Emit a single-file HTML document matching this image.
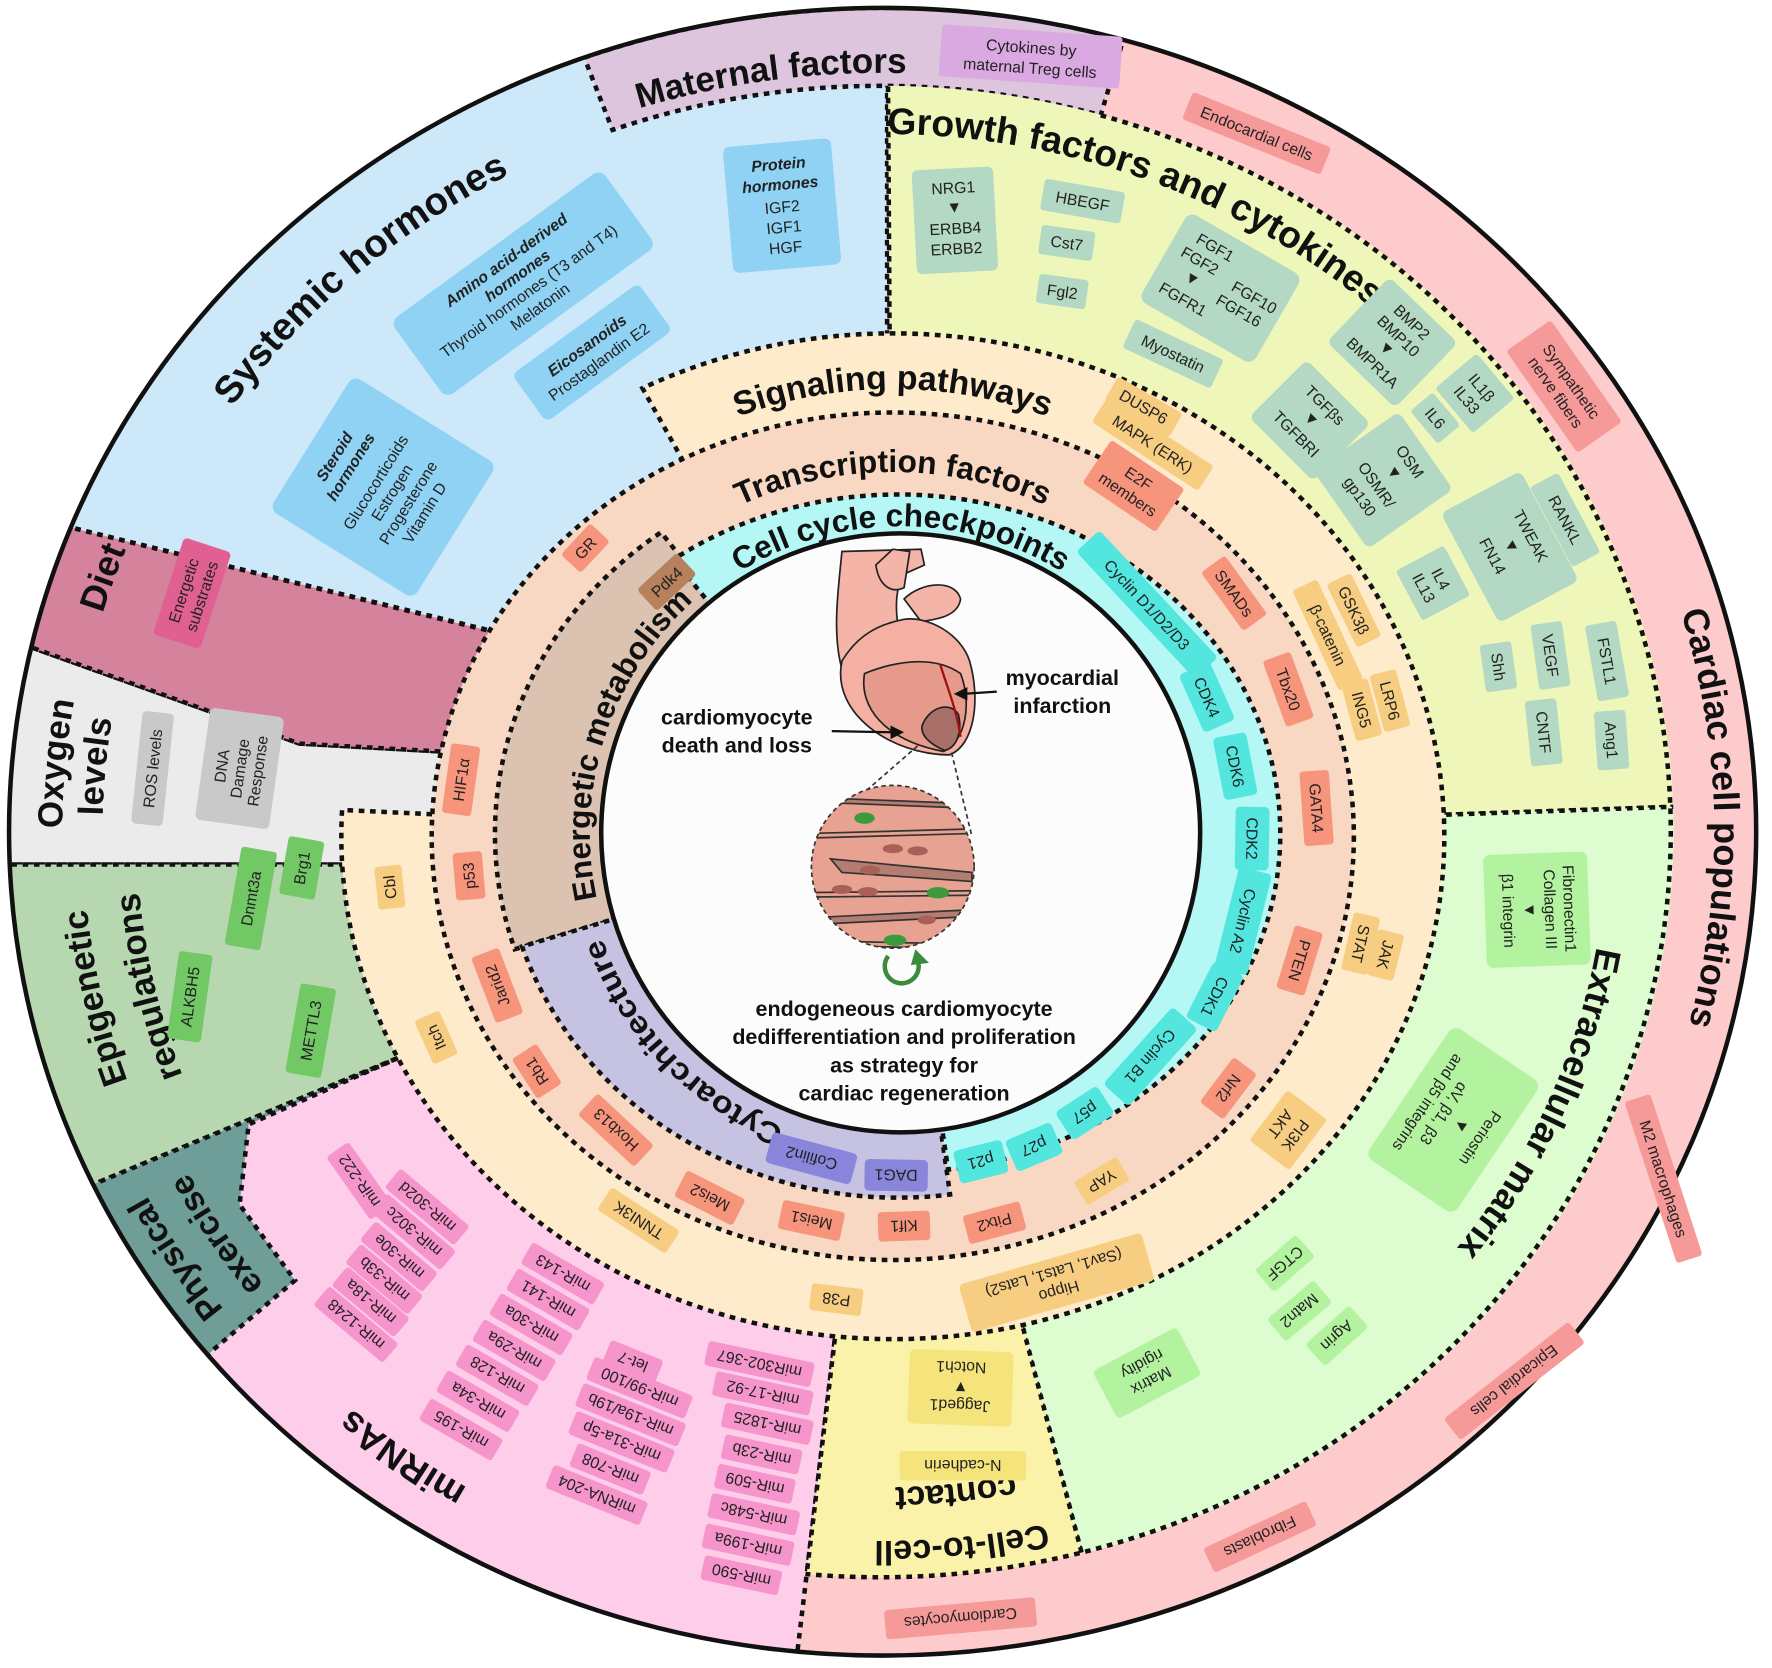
<!DOCTYPE html>
<html><head><meta charset="utf-8"><style>
html,body{margin:0;padding:0;background:#fff;width:1772px;height:1668px;overflow:hidden;}
svg{display:block;position:absolute;left:0;top:0;overflow:hidden;}
text{font-family:"Liberation Sans",sans-serif;}
.t{font-weight:bold;fill:#111;}
.d{stroke:#111;stroke-width:4;stroke-dasharray:5 5;}
.l text{font-size:14px;text-anchor:middle;fill:#222;}
.bi{font-weight:bold;font-style:italic;}
.ar{fill:#666;font-size:11px;}
.c{font-weight:bold;font-size:19px;text-anchor:middle;fill:#111;}
</style></head><body>
<svg width="1772" height="1668" viewBox="0 0 1568 1476" preserveAspectRatio="none" xmlns="http://www.w3.org/2000/svg">
<defs>
<clipPath id="co"><ellipse cx="781" cy="736" rx="773" ry="729"/></clipPath>
<clipPath id="c7"><ellipse cx="781" cy="736" rx="700" ry="660"/></clipPath>
<clipPath id="ct"><circle cx="790" cy="767" r="72"/></clipPath>
<path id="pSys" d="M123 510 A700 660 0 0 1 612 96"/>
<path id="pMat" d="M447 143 A712 671 0 0 1 929 79"/>
<path id="pGro" d="M667 128 A655 618 0 0 1 1297 356"/>
<path id="pCar" d="M1418 389 A736 694 0 0 1 1431 1062"/>
<path id="pEcm" d="M1422 736 A641 604 0 0 1 1218 1178"/>
<path id="pCc1" d="M1073 1300 A666 628 0 0 1 620 1345"/>
<path id="pCc2" d="M1051 1257 A615 580 0 0 1 632 1299"/>
<path id="pMir" d="M536 1371 A717 676 0 0 1 216 1152"/>
<path id="pPh1" d="M308 1267 A735 693 0 0 1 71 915"/>
<path id="pPh2" d="M336 1237 A693 654 0 0 1 112 905"/>
<path id="pEp1" d="M201 1119 A708 668 0 0 1 84 620"/>
<path id="pEp2" d="M240 1093 A660 622 0 0 1 131 628"/>
<path id="pOx1" d="M66 855 A726 685 0 0 1 99 502"/>
<path id="pOx2" d="M101 849 A690 651 0 0 1 133 513"/>
<path id="pDiet" d="M64 677 A720 679 0 0 1 177 366"/>
<path id="pSig" d="M563 416 A395 395 0 0 1 1017 416"/>
<path id="pTf" d="M583 493 A322 322 0 0 1 997 493"/>
<path id="pCcc" d="M605 545 A272 272 0 0 1 989 545"/>
<path id="pEn" d="M552 862 A275 275 0 0 1 672 492"/>
<path id="pCy" d="M729 1009 A280 280 0 0 1 523 795"/>
</defs>

<ellipse cx="781" cy="736" rx="773" ry="729" fill="#fdcbcb"/>
<g clip-path="url(#co)">
<polygon class="d" fill="#cde9f9" points="-50,439 450,562 785,700 785,-50 -50,-50"/>
<polygon class="d" fill="#fecde9" points="792,740 701,1500 -50,1500 -50,740"/>
<polygon class="d" fill="#ebebeb" points="-50,545 265,658 390,665 460,665 460,765 -50,765"/>
<polygon class="d" fill="#b7d7b0" points="-50,765 470,765 470,900 355,935 -50,1103"/>
<polygon class="d" fill="#6f9e98" points="-50,1103 355,935 310,955 220,995 212,1066 261,1133 188,1195 100,1290 -50,1450"/>
<polygon class="d" fill="#d5839d" points="-50,439 440,560 452,600 448,665 390,665 265,658 -50,545"/>
<path class="d" fill="#dcc5dd" d="M517 51 A773 729 0 0 1 994 35 L974 102 A700 660 0 0 0 542 115 Z"/>
</g>
<g clip-path="url(#c7)">
<polygon class="d" fill="#eef6b9" points="785,-50 1650,-50 1650,708 790,738"/>
<polygon class="d" fill="#ddfcd0" points="790,738 1650,708 1650,1650 1029,1650"/>
<polygon class="d" fill="#fbf2aa" points="792,740 1029,1650 683,1650"/>
</g>
<path class="d" fill="none" d="M974 102 A700 660 0 0 1 712.7 1392.8"/>

<path class="d" fill="#fdebcb" d="M790 740 L568.5 343.5 A488 445 0 1 1 302.7 716.7 Z"/>
<ellipse class="d" cx="790" cy="740" rx="408" ry="375" fill="#f8d8c3"/>
<path class="d" fill="#dcc3b1" d="M795 738 L455.5 840 A357 330 0 0 1 585 471 Z"/>
<path class="d" fill="#c6c3e2" d="M795 738 L840.7 1057 A350 322 0 0 1 462 837.5 Z"/>
<path class="d" fill="#b4f7f4" d="M795 738 L596 495 A338 300 0 1 1 839 1035 Z"/>
<circle cx="797" cy="737" r="265" fill="#fdfcfd" stroke="#111" stroke-width="4"/>
<ellipse cx="781" cy="736" rx="773" ry="729" fill="none" stroke="#111" stroke-width="4"/>

<text class="t" font-size="34"><textPath href="#pSys" startOffset="50%" text-anchor="middle">Systemic hormones</textPath></text>
<text class="t" font-size="31"><textPath href="#pMat" startOffset="50%" text-anchor="middle">Maternal factors</textPath></text>
<text class="t" font-size="33"><textPath href="#pGro" startOffset="50%" text-anchor="middle">Growth factors and cytokines</textPath></text>
<text class="t" font-size="32"><textPath href="#pCar" startOffset="50%" text-anchor="middle">Cardiac cell populations</textPath></text>
<text class="t" font-size="32"><textPath href="#pEcm" startOffset="50%" text-anchor="middle">Extracellular matrix</textPath></text>
<text class="t" font-size="30"><textPath href="#pCc1" startOffset="50%" text-anchor="middle">Cell-to-cell</textPath></text>
<text class="t" font-size="30"><textPath href="#pCc2" startOffset="50%" text-anchor="middle">contact</textPath></text>
<text class="t" font-size="32"><textPath href="#pMir" startOffset="50%" text-anchor="middle">miRNAs</textPath></text>
<text class="t" font-size="30"><textPath href="#pPh1" startOffset="50%" text-anchor="middle">Physical</textPath></text>
<text class="t" font-size="30"><textPath href="#pPh2" startOffset="50%" text-anchor="middle">exercise</textPath></text>
<text class="t" font-size="31"><textPath href="#pEp1" startOffset="50%" text-anchor="middle">Epigenetic</textPath></text>
<text class="t" font-size="31"><textPath href="#pEp2" startOffset="50%" text-anchor="middle">regulations</textPath></text>
<text class="t" font-size="31"><textPath href="#pOx1" startOffset="50%" text-anchor="middle">Oxygen</textPath></text>
<text class="t" font-size="31"><textPath href="#pOx2" startOffset="50%" text-anchor="middle">levels</textPath></text>
<text class="t" font-size="32"><textPath href="#pDiet" startOffset="50%" text-anchor="middle">Diet</textPath></text>
<text class="t" font-size="30"><textPath href="#pSig" startOffset="50%" text-anchor="middle">Signaling pathways</textPath></text>
<text class="t" font-size="28"><textPath href="#pTf" startOffset="50%" text-anchor="middle">Transcription factors</textPath></text>
<text class="t" font-size="28"><textPath href="#pCcc" startOffset="50%" text-anchor="middle">Cell cycle checkpoints</textPath></text>
<text class="t" font-size="28"><textPath href="#pEn" startOffset="50%" text-anchor="middle" textLength="290" lengthAdjust="spacingAndGlyphs">Energetic metabolism</textPath></text>
<text class="t" font-size="27"><textPath href="#pCy" startOffset="50%" text-anchor="middle" textLength="240" lengthAdjust="spacingAndGlyphs">Cytoarchitecture</textPath></text>

<g class="l">
<g transform="translate(1112 118) rotate(22)"><rect x="-66" y="-13" width="132" height="26" rx="3" fill="#f59a98"/><text y="5">Endocardial cells</text></g>
<g transform="translate(1384 342) rotate(55)"><rect x="-55" y="-24" width="110" height="48" rx="3" fill="#f59a98"/><text y="-3">Sympathetic</text><text y="14">nerve fibers</text></g>
<g transform="translate(1472 1043) rotate(72)"><rect x="-75" y="-12" width="150" height="24" rx="3" fill="#f59a98"/><text y="5">M2 macrophages</text></g>
<g transform="translate(1340 1222) rotate(142)"><rect x="-70" y="-12" width="140" height="24" rx="3" fill="#f59a98"/><text y="5">Epicardial cells</text></g>
<g transform="translate(1115 1360) rotate(155)"><rect x="-50" y="-12" width="100" height="24" rx="3" fill="#f59a98"/><text y="5">Fibroblasts</text></g>
<g transform="translate(850 1432) rotate(175)"><rect x="-67" y="-13" width="134" height="26" rx="3" fill="#f59a98"/><text y="5">Cardiomyocytes</text></g>
<g transform="translate(912 50) rotate(4)"><rect x="-80" y="-23" width="160" height="46" rx="3" fill="#dba9e2"/><text y="-3">Cytokines by</text><text y="15">maternal Treg cells</text></g>
<g transform="translate(692 182) rotate(-5)"><rect x="-48" y="-56" width="96" height="112" rx="6" fill="#8fd2f4"/><text y="-32" class="bi">Protein</text><text y="-14" class="bi">hormones</text><text y="6">IGF2</text><text y="24">IGF1</text><text y="42">HGF</text></g>
<g transform="translate(463 251) rotate(-36)"><rect x="-115" y="-42" width="230" height="84" rx="8" fill="#8fd2f4"/><text y="-21" class="bi">Amino acid-derived</text><text y="-4" class="bi">hormones</text><text y="13">Thyroid hormones (T3 and T4)</text><text y="30">Melatonin</text></g>
<g transform="translate(524 312) rotate(-36)"><rect x="-69" y="-26" width="138" height="52" rx="6" fill="#8fd2f4"/><text y="-3" class="bi">Eicosanoids</text><text y="15">Prostaglandin E2</text></g>
<g transform="translate(339 431) rotate(-58)"><rect x="-70" y="-75" width="140" height="150" rx="8" fill="#8fd2f4"/><text y="-46" class="bi">Steroid</text><text y="-29" class="bi">hormones</text><text y="-3">Glucocorticoids</text><text y="14">Estrogen</text><text y="31">Progesterone</text><text y="48">Vitamin D</text></g>
<g transform="translate(170 525) rotate(-72)"><rect x="-45" y="-22" width="90" height="44" rx="4" fill="#e06092"/><text y="-3">Energetic</text><text y="14">substrates</text></g>
<g transform="translate(135 680) rotate(-84)"><rect x="-50" y="-14" width="100" height="28" rx="4" fill="#c9c9c9"/><text y="5">ROS levels</text></g>
<g transform="translate(212 680) rotate(-82)"><rect x="-50" y="-33" width="100" height="66" rx="5" fill="#c9c9c9"/><text y="-11">DNA</text><text y="5">Damage</text><text y="21">Response</text></g>
<g transform="translate(168 882) rotate(-82)"><rect x="-39" y="-15" width="78" height="30" rx="3" fill="#71c865"/><text y="5">ALKBH5</text></g>
<g transform="translate(222 795) rotate(-80)"><rect x="-44" y="-16" width="88" height="32" rx="3" fill="#71c865"/><text y="5">Dnmt3a</text></g>
<g transform="translate(267 768) rotate(-80)"><rect x="-26" y="-16" width="52" height="32" rx="3" fill="#71c865"/><text y="5">Brg1</text></g>
<g transform="translate(275 912) rotate(-80)"><rect x="-40" y="-16" width="80" height="32" rx="3" fill="#71c865"/><text y="5">METTL3</text></g>
<g fill="#f595cb">
<g transform="translate(318 1045) rotate(-125)"><rect x="-34" y="-12" width="68" height="24" rx="3"/><text y="5">miR-222</text></g>
<g transform="translate(378 1068) rotate(-140)"><rect x="-40" y="-11" width="80" height="22" rx="3"/><text y="5">miR-302d</text></g>
<g transform="translate(366 1090) rotate(-140)"><rect x="-40" y="-11" width="80" height="22" rx="3"/><text y="5">miR-302c</text></g>
<g transform="translate(353 1112) rotate(-140)"><rect x="-36" y="-11" width="72" height="22" rx="3"/><text y="5">miR-30e</text></g>
<g transform="translate(340 1132) rotate(-140)"><rect x="-36" y="-11" width="72" height="22" rx="3"/><text y="5">miR-33b</text></g>
<g transform="translate(328 1152) rotate(-140)"><rect x="-36" y="-11" width="72" height="22" rx="3"/><text y="5">miR-18a</text></g>
<g transform="translate(315 1172) rotate(-140)"><rect x="-40" y="-11" width="80" height="22" rx="3"/><text y="5">miR-1248</text></g>
<g transform="translate(498 1127) rotate(-150)"><rect x="-37" y="-11" width="74" height="22" rx="3"/><text y="5">miR-143</text></g>
<g transform="translate(485 1150) rotate(-150)"><rect x="-37" y="-11" width="74" height="22" rx="3"/><text y="5">miR-141</text></g>
<g transform="translate(470 1172) rotate(-150)"><rect x="-37" y="-11" width="74" height="22" rx="3"/><text y="5">miR-30a</text></g>
<g transform="translate(455 1195) rotate(-150)"><rect x="-37" y="-11" width="74" height="22" rx="3"/><text y="5">miR-29a</text></g>
<g transform="translate(440 1217) rotate(-150)"><rect x="-37" y="-11" width="74" height="22" rx="3"/><text y="5">miR-128</text></g>
<g transform="translate(423 1240) rotate(-150)"><rect x="-37" y="-11" width="74" height="22" rx="3"/><text y="5">miR-34a</text></g>
<g transform="translate(408 1265) rotate(-150)"><rect x="-37" y="-11" width="74" height="22" rx="3"/><text y="5">miR-195</text></g>
<g transform="translate(560 1205) rotate(-158)"><rect x="-25" y="-11" width="50" height="22" rx="3"/><text y="5">let-7</text></g>
<g transform="translate(566 1228) rotate(-158)"><rect x="-47" y="-11" width="94" height="22" rx="3"/><text y="5">miR-99/100</text></g>
<g transform="translate(558 1252) rotate(-158)"><rect x="-49" y="-11" width="98" height="22" rx="3"/><text y="5">miR-19a/19b</text></g>
<g transform="translate(550 1276) rotate(-158)"><rect x="-47" y="-11" width="94" height="22" rx="3"/><text y="5">miR-31a-5p</text></g>
<g transform="translate(540 1300) rotate(-158)"><rect x="-35" y="-11" width="70" height="22" rx="3"/><text y="5">miR-708</text></g>
<g transform="translate(528 1323) rotate(-158)"><rect x="-45" y="-11" width="90" height="22" rx="3"/><text y="5">miRNA-204</text></g>
<g transform="translate(672 1207) rotate(-168)"><rect x="-48" y="-11" width="96" height="22" rx="3"/><text y="5">miR302-367</text></g>
<g transform="translate(675 1233) rotate(-168)"><rect x="-44" y="-11" width="88" height="22" rx="3"/><text y="5">miR-17-92</text></g>
<g transform="translate(679 1260) rotate(-168)"><rect x="-40" y="-11" width="80" height="22" rx="3"/><text y="5">miR-1825</text></g>
<g transform="translate(674 1287) rotate(-168)"><rect x="-35" y="-11" width="70" height="22" rx="3"/><text y="5">miR-23b</text></g>
<g transform="translate(668 1313) rotate(-168)"><rect x="-35" y="-11" width="70" height="22" rx="3"/><text y="5">miR-509</text></g>
<g transform="translate(667 1340) rotate(-168)"><rect x="-40" y="-11" width="80" height="22" rx="3"/><text y="5">miR-548c</text></g>
<g transform="translate(662 1367) rotate(-168)"><rect x="-40" y="-11" width="80" height="22" rx="3"/><text y="5">miR-199a</text></g>
<g transform="translate(656 1394) rotate(-168)"><rect x="-35" y="-11" width="70" height="22" rx="3"/><text y="5">miR-590</text></g>
</g>
<g transform="translate(850 1228) rotate(182)"><rect x="-46" y="-33" width="92" height="66" rx="5" fill="#f5e37b"/><text y="-11">Jagged1</text><text y="5" class="ar">▼</text><text y="23">Notch1</text></g>
<g transform="translate(852 1297) rotate(180)"><rect x="-56" y="-13" width="112" height="26" rx="3" fill="#f5e37b"/><text y="5">N-cadherin</text></g>
<g transform="translate(1360 805) rotate(88)"><rect x="-50" y="-46" width="100" height="92" rx="6" fill="#b3f29e"/><text y="-24">Fibronectin1</text><text y="-7">Collagen III</text><text y="11" class="ar">▼</text><text y="30">β1 integrin</text></g>
<g transform="translate(1286 991) rotate(124)"><rect x="-70" y="-47" width="140" height="94" rx="8" fill="#b3f29e"/><text y="-24">Periostin</text><text y="-4" class="ar">▼</text><text y="15">αV, β1, β3</text><text y="32">and β5 integrins</text></g>
<g transform="translate(1137 1118) rotate(139)"><rect x="-24" y="-13" width="48" height="26" rx="3" fill="#b3f29e"/><text y="5">CTGF</text></g>
<g transform="translate(1150 1160) rotate(140)"><rect x="-27" y="-13" width="54" height="26" rx="3" fill="#b3f29e"/><text y="5">Matn2</text></g>
<g transform="translate(1183 1182) rotate(138)"><rect x="-26" y="-13" width="52" height="26" rx="3" fill="#b3f29e"/><text y="5">Agrin</text></g>
<g transform="translate(1015 1215) rotate(152)"><rect x="-42" y="-24" width="84" height="48" rx="4" fill="#b3f29e"/><text y="-3">Matrix</text><text y="14">rigidity</text></g>
<g fill="#b3d8c3">
<g transform="translate(845 195) rotate(-3)"><rect x="-36" y="-46" width="72" height="92" rx="5"/><text y="-24">NRG1</text><text y="-7" class="ar">▼</text><text y="12">ERBB4</text><text y="30">ERBB2</text></g>
<g transform="translate(958 178) rotate(10)"><rect x="-36" y="-14" width="72" height="28" rx="3"/><text y="5">HBEGF</text></g>
<g transform="translate(944 215) rotate(8)"><rect x="-24" y="-13" width="48" height="26" rx="3"/><text y="5">Cst7</text></g>
<g transform="translate(940 258) rotate(8)"><rect x="-22" y="-13" width="44" height="26" rx="3"/><text y="5">Fgl2</text></g>
<g transform="translate(1080 255) rotate(30)"><rect x="-58" y="-45" width="116" height="90" rx="8"/><text x="-22" y="-24">FGF1</text><text x="-28" y="-7">FGF2</text><text x="30" y="-3">FGF10</text><text x="24" y="14">FGF16</text><text x="-26" y="10" class="ar">▼</text><text x="-24" y="30">FGFR1</text></g>
<g transform="translate(1038 313) rotate(25)"><rect x="-43" y="-14" width="86" height="28" rx="3"/><text y="5">Myostatin</text></g>
<g transform="translate(1232 303) rotate(44)"><rect x="-42" y="-40" width="84" height="80" rx="6"/><text y="-20">BMP2</text><text y="-3">BMP10</text><text y="12" class="ar">▼</text><text y="30">BMPR1A</text></g>
<g transform="translate(1305 348) rotate(50)"><rect x="-26" y="-24" width="52" height="48" rx="3"/><text y="-3">IL1β</text><text y="14">IL33</text></g>
<g transform="translate(1270 370) rotate(50)"><rect x="-19" y="-13" width="38" height="26" rx="3"/><text y="5">IL6</text></g>
<g transform="translate(1159 372) rotate(45)"><rect x="-40" y="-36" width="80" height="72" rx="6"/><text y="-14">TGFβs</text><text y="3" class="ar">▼</text><text y="22">TGFBRI</text></g>
<g transform="translate(1224 425) rotate(55)"><rect x="-42" y="-46" width="84" height="92" rx="6"/><text y="-24">OSM</text><text y="-7" class="ar">▼</text><text y="12">OSMR/</text><text y="30">gp130</text></g>
<g transform="translate(1336 484) rotate(62)"><rect x="-55" y="-40" width="110" height="80" rx="6"/><text y="-16">TWEAK</text><text y="3" class="ar">▼</text><text y="22">FN14</text></g>
<g transform="translate(1385 460) rotate(62)"><rect x="-40" y="-14" width="80" height="28" rx="3"/><text y="5">RANKL</text></g>
<g transform="translate(1268 516) rotate(62)"><rect x="-25" y="-24" width="50" height="48" rx="3"/><text y="-3">IL4</text><text y="14">IL13</text></g>
<g transform="translate(1422 585) rotate(80)"><rect x="-34" y="-14" width="68" height="28" rx="3"/><text y="5">FSTL1</text></g>
<g transform="translate(1372 580) rotate(82)"><rect x="-29" y="-14" width="58" height="28" rx="3"/><text y="5">VEGF</text></g>
<g transform="translate(1326 590) rotate(82)"><rect x="-21" y="-14" width="42" height="28" rx="3"/><text y="5">Shh</text></g>
<g transform="translate(1366 648) rotate(84)"><rect x="-29" y="-14" width="58" height="28" rx="3"/><text y="5">CNTF</text></g>
<g transform="translate(1426 655) rotate(86)"><rect x="-26" y="-14" width="52" height="28" rx="3"/><text y="5">Ang1</text></g>
</g>
<g fill="#f7cd82">
<g transform="translate(1012 360) rotate(30)"><rect x="-33" y="-12" width="66" height="24" rx="3"/><text y="5">DUSP6</text></g>
<g transform="translate(1020 393) rotate(33)"><rect x="-56" y="-13" width="112" height="26" rx="3"/><text y="5">MAPK (ERK)</text></g>
<g transform="translate(1198 540) rotate(64)"><rect x="-31" y="-12" width="62" height="24" rx="3"/><text y="5">GSK3β</text></g>
<g transform="translate(1175 562) rotate(65)"><rect x="-49" y="-12" width="98" height="24" rx="3"/><text y="5">β-catenin</text></g>
<g transform="translate(1230 620) rotate(75)"><rect x="-26" y="-12" width="52" height="24" rx="3"/><text y="5">LRP6</text></g>
<g transform="translate(1205 628) rotate(75)"><rect x="-26" y="-12" width="52" height="24" rx="3"/><text y="5">ING5</text></g>
<g transform="translate(1204 835) rotate(103)"><rect x="-26" y="-12" width="52" height="24" rx="3"/><text y="5">STAT</text></g>
<g transform="translate(1226 845) rotate(104)"><rect x="-21" y="-12" width="42" height="24" rx="3"/><text y="5">JAK</text></g>
<g transform="translate(1140 1000) rotate(127)"><rect x="-28" y="-22" width="56" height="44" rx="3"/><text y="-3">PI3K</text><text y="14">AKT</text></g>
<g transform="translate(975 1045) rotate(149)"><rect x="-22" y="-12" width="44" height="24" rx="3"/><text y="5">YAP</text></g>
<g transform="translate(935 1135) rotate(164)"><rect x="-84" y="-22" width="168" height="44" rx="4"/><text y="-3">Hippo</text><text y="14">(Sav1, Lats1, Lats2)</text></g>
<g transform="translate(740 1150) rotate(187)"><rect x="-23" y="-12" width="46" height="24" rx="3"/><text y="5">P38</text></g>
<g transform="translate(565 1080) rotate(213)"><rect x="-36" y="-12" width="72" height="24" rx="3"/><text y="5">TNNI3K</text></g>
<g transform="translate(386 918) rotate(246)"><rect x="-21" y="-12" width="42" height="24" rx="3"/><text y="5">Itch</text></g>
<g transform="translate(345 785) rotate(264)"><rect x="-19" y="-12" width="38" height="24" rx="3"/><text y="5">Cbl</text></g>
</g>
<g fill="#f7947c">
<g transform="translate(518 485) rotate(-47)"><rect x="-19" y="-12" width="38" height="24" rx="3"/><text y="5">GR</text></g>
<g transform="translate(1003 430) rotate(34)"><rect x="-39" y="-23" width="78" height="46" rx="3"/><text y="-3">E2F</text><text y="14">members</text></g>
<g transform="translate(1092 525) rotate(54)"><rect x="-32" y="-13" width="64" height="26" rx="3"/><text y="5">SMADs</text></g>
<g transform="translate(1140 610) rotate(70)"><rect x="-31" y="-13" width="62" height="26" rx="3"/><text y="5">Tbx20</text></g>
<g transform="translate(1165 715) rotate(86)"><rect x="-33" y="-13" width="66" height="26" rx="3"/><text y="5">GATA4</text></g>
<g transform="translate(1150 850) rotate(107)"><rect x="-29" y="-13" width="58" height="26" rx="3"/><text y="5">PTEN</text></g>
<g transform="translate(1087 963) rotate(127)"><rect x="-25" y="-13" width="50" height="26" rx="3"/><text y="5">Nrf2</text></g>
<g transform="translate(880 1082) rotate(165)"><rect x="-26" y="-13" width="52" height="26" rx="3"/><text y="5">Pitx2</text></g>
<g transform="translate(800 1085) rotate(178)"><rect x="-23" y="-13" width="46" height="26" rx="3"/><text y="5">Klf1</text></g>
<g transform="translate(718 1080) rotate(192)"><rect x="-28" y="-13" width="56" height="26" rx="3"/><text y="5">Meis1</text></g>
<g transform="translate(628 1060) rotate(207)"><rect x="-29" y="-13" width="58" height="26" rx="3"/><text y="5">Meis2</text></g>
<g transform="translate(545 1000) rotate(223)"><rect x="-34" y="-13" width="68" height="26" rx="3"/><text y="5">Hoxb13</text></g>
<g transform="translate(475 948) rotate(237)"><rect x="-21" y="-13" width="42" height="26" rx="3"/><text y="5">Rb1</text></g>
<g transform="translate(440 872) rotate(249)"><rect x="-31" y="-13" width="62" height="26" rx="3"/><text y="5">Jarid2</text></g>
<g transform="translate(415 775) rotate(265)"><rect x="-21" y="-13" width="42" height="26" rx="3"/><text y="5">p53</text></g>
<g transform="translate(408 690) rotate(278)"><rect x="-31" y="-13" width="62" height="26" rx="3"/><text y="5">HIF1α</text></g>
</g>
<g transform="translate(590 515) rotate(-43)"><rect x="-24" y="-13" width="48" height="26" rx="3" fill="#b6815c"/><text y="5">Pdk4</text></g>
<g fill="#52e6df">
<g transform="translate(1015 535) rotate(47)"><rect x="-77" y="-14" width="154" height="28" rx="4"/><text y="5">Cyclin D1/D2/D3</text></g>
<g transform="translate(1068 617) rotate(66)"><rect x="-28" y="-15" width="56" height="30" rx="4"/><text y="5">CDK4</text></g>
<g transform="translate(1093 678) rotate(79)"><rect x="-28" y="-15" width="56" height="30" rx="4"/><text y="5">CDK6</text></g>
<g transform="translate(1108 742) rotate(91)"><rect x="-28" y="-15" width="56" height="30" rx="4"/><text y="5">CDK2</text></g>
<g transform="translate(1100 815) rotate(104)"><rect x="-46" y="-15" width="92" height="30" rx="4"/><text y="5">Cyclin A2</text></g>
<g transform="translate(1075 882) rotate(117)"><rect x="-28" y="-15" width="56" height="30" rx="4"/><text y="5">CDK1</text></g>
<g transform="translate(1018 935) rotate(132)"><rect x="-46" y="-15" width="92" height="30" rx="4"/><text y="5">Cyclin B1</text></g>
<g transform="translate(960 985) rotate(147)"><rect x="-22" y="-15" width="44" height="30" rx="4"/><text y="5">p57</text></g>
<g transform="translate(915 1015) rotate(157)"><rect x="-22" y="-15" width="44" height="30" rx="4"/><text y="5">p27</text></g>
<g transform="translate(868 1028) rotate(166)"><rect x="-22" y="-15" width="44" height="30" rx="4"/><text y="5">p21</text></g>
</g>
<g transform="translate(793 1040) rotate(181)"><rect x="-28" y="-14" width="56" height="28" rx="4" fill="#8985db"/><text y="5">DAG1</text></g>
<g transform="translate(718 1025) rotate(195)"><rect x="-39" y="-14" width="78" height="28" rx="4" fill="#8985db"/><text y="5">Cofilin2</text></g>
</g>

<g stroke="#222" stroke-width="1.5">
<path d="M745 488 C742 520 736 560 745 592 L800 575 C790 545 792 520 800 508 L818 500 L815 486 Z" fill="#f4b5a8"/>
<path d="M775 500 C778 520 790 525 800 520 L805 488 L790 486 Z" fill="#f4b5a8"/>
<path d="M800 530 C815 515 845 512 850 530 C848 545 830 548 815 550 Z" fill="#f4b5a8"/>
<path d="M745 585 C735 632 790 668 840 668 C862 660 868 620 858 585 C850 560 820 545 800 548 C780 552 760 560 745 585 Z" fill="#f4b0a2"/>
<path d="M765 596 C760 625 782 655 835 665 C855 655 860 622 850 596 C830 582 800 582 765 596 Z" fill="#e59a8c"/>
<path d="M816 642 C822 626 840 620 848 632 C852 648 846 662 836 664 C826 660 814 652 816 642 Z" fill="#a87068"/>
</g>
<path d="M832 588 C838 608 846 626 850 652" stroke="#a01010" stroke-width="2" fill="none"/>
<g stroke="#111" stroke-width="2" fill="#111">
<line x1="882" y1="612" x2="852" y2="614"/><polygon points="844,614 856,608 856,620" stroke="none"/>
<line x1="736" y1="647" x2="792" y2="648"/><polygon points="800,648 788,642 788,654" stroke="none"/>
</g>
<text class="c" x="940" y="606">myocardial</text><text class="c" x="940" y="631">infarction</text>
<text class="c" x="652" y="641">cardiomyocyte</text><text class="c" x="652" y="666">death and loss</text>
<g stroke="#333" stroke-width="1.5" stroke-dasharray="4 3" fill="none">
<line x1="812" y1="660" x2="726" y2="735"/><line x1="842" y1="666" x2="860" y2="740"/>
</g>
<g clip-path="url(#ct)">
<rect x="710" y="690" width="160" height="160" fill="#e8a292"/>
<g stroke="#333" stroke-width="1.5" fill="#b57d72">
<path d="M700 705 L880 712 L880 716 L700 709 Z"/>
<path d="M700 738 L880 733 L880 737 L700 742 Z" fill="#e8a292"/>
<path d="M735 760 L860 772 L860 780 L745 772 Z"/>
<path d="M700 790 L880 788 L880 792 L700 794 Z" fill="#e8a292"/>
<path d="M720 812 L880 804 L880 810 L720 818 Z"/>
<path d="M700 832 L880 836 L880 840 L700 836 Z" fill="#e8a292"/>
</g>
<g fill="#3c9a3c"><ellipse cx="765" cy="724" rx="9" ry="5"/><ellipse cx="830" cy="790" rx="10" ry="5"/><ellipse cx="792" cy="832" rx="10" ry="5"/></g>
<g fill="#a86058"><ellipse cx="790" cy="751" rx="9" ry="4"/><ellipse cx="812" cy="753" rx="9" ry="4"/><ellipse cx="770" cy="770" rx="9" ry="4"/><ellipse cx="745" cy="787" rx="9" ry="4"/><ellipse cx="768" cy="789" rx="9" ry="4"/><ellipse cx="820" cy="814" rx="8" ry="4"/></g>
</g>
<circle cx="790" cy="767" r="72" fill="none" stroke="#333" stroke-width="1.5" stroke-dasharray="4 3"/>
<path d="M786 846 A15 15 0 1 0 812 850" stroke="#3c8a3c" stroke-width="4" fill="none"/>
<polygon points="810,840 822,852 806,854" fill="#3c8a3c"/>
<text class="c" x="800" y="899">endogeneous cardiomyocyte</text>
<text class="c" x="800" y="924">dedifferentiation and proliferation</text>
<text class="c" x="800" y="949">as strategy for</text>
<text class="c" x="800" y="974">cardiac regeneration</text>
</svg>
</body></html>
